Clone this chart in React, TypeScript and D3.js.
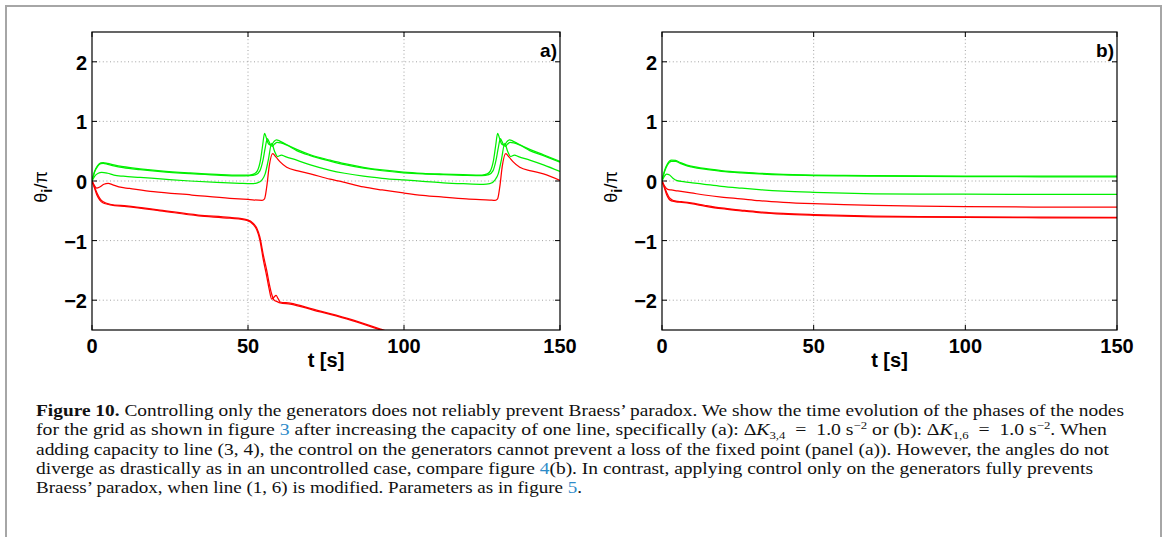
import React from 'react';
import * as d3 from 'd3';

type Pt = [number, number];

// ---------- axes ----------
const xTicks = [0, 50, 100, 150];
const yTicks = [-2, -1, 0, 1, 2];
const xDomain: [number, number] = [0, 150];
const yDomain: [number, number] = [-2.5, 2.5];

// ---------- panel a: ΔK(3,4) ----------
const aGreen1: Pt[] = [[0,0],[0.8,0.16],[1.8,0.26],[2.8,0.305],[3.6,0.31],[5,0.295],[7,0.27],[10,0.24],[15.4,0.205],[22,0.17],[31.4,0.135],[40,0.11],[47.4,0.097],[50.5,0.1],[52,0.12],[53,0.17],[54,0.35],[54.7,0.6],[55.3,0.8],[55.9,0.72],[56.6,0.62],[57.4,0.6],[58.3,0.66],[59.1,0.69],[60.2,0.67],[62,0.62],[65.6,0.53],[70,0.44],[76.3,0.35],[81,0.29],[87,0.23],[93,0.185],[99.8,0.15],[106,0.13],[112.6,0.117],[119,0.107],[125,0.1],[126.7,0.12],[127.7,0.17],[128.7,0.35],[129.4,0.6],[130,0.8],[130.6,0.72],[131.3,0.62],[132.1,0.6],[133,0.66],[133.8,0.69],[134.9,0.67],[136.7,0.62],[140.3,0.53],[144.7,0.44],[150,0.33]];
const aGreen2: Pt[] = [[0,0],[0.8,0.145],[1.8,0.245],[2.8,0.29],[3.6,0.295],[5,0.28],[7,0.255],[10,0.225],[15.4,0.19],[22,0.156],[31.4,0.122],[40,0.098],[47.4,0.086],[50.5,0.09],[52.5,0.108],[53.8,0.17],[54.8,0.35],[55.5,0.55],[56.2,0.71],[56.9,0.64],[57.7,0.58],[58.5,0.62],[59.3,0.65],[60.5,0.64],[62.5,0.6],[65.6,0.51],[70,0.425],[76.3,0.335],[81,0.275],[87,0.216],[93,0.172],[99.8,0.138],[106,0.119],[112.6,0.106],[119,0.096],[125,0.09],[127.2,0.108],[128.5,0.17],[129.5,0.35],[130.2,0.55],[130.9,0.71],[131.6,0.64],[132.4,0.58],[133.2,0.62],[134,0.65],[135.2,0.64],[137.2,0.6],[140.3,0.51],[144.7,0.425],[150,0.315]];
const aGreen3: Pt[] = [[0,0],[1,0.09],[2,0.13],[3.1,0.145],[5,0.13],[7,0.1],[10,0.08],[15.4,0.06],[22,0.035],[31.4,0.0],[40,-0.025],[47.4,-0.04],[51,-0.045],[53,-0.03],[54.5,0.02],[55.5,0.12],[56.5,0.35],[57.6,0.63],[58.5,0.5],[59.5,0.41],[60.7,0.435],[62,0.41],[65.6,0.35],[70,0.27],[76.3,0.18],[81,0.13],[87,0.08],[93,0.045],[99.8,0.017],[106,-0.005],[112.6,-0.03],[119,-0.045],[125.4,-0.055],[127.5,-0.045],[129.2,0.02],[130.2,0.12],[131.2,0.35],[132.3,0.63],[133.2,0.5],[134.2,0.41],[135.4,0.435],[136.7,0.41],[140.3,0.35],[144.7,0.27],[150,0.16]];
const aRed1: Pt[] = [[0,0],[0.7,-0.07],[1.5,-0.12],[2.5,-0.1],[3.8,-0.055],[5.2,-0.04],[6.5,-0.06],[8.6,-0.1],[12,-0.125],[19.7,-0.18],[32,-0.235],[44.2,-0.29],[50,-0.31],[54.5,-0.325],[55.3,-0.3],[56,-0.1],[56.8,0.25],[57.9,0.46],[59,0.4],[60.3,0.32],[62.4,0.23],[66,0.17],[70,0.12],[76.3,0.03],[80,-0.01],[87,-0.1],[93,-0.15],[99.8,-0.2],[106,-0.24],[112.6,-0.27],[120,-0.3],[127.5,-0.32],[129.2,-0.325],[130,-0.3],[130.7,-0.1],[131.5,0.25],[132.6,0.46],[133.7,0.4],[135,0.32],[137.1,0.23],[140.7,0.17],[144.7,0.12],[150,0.01]];
const aRed2: Pt[] = [[0,0],[0.8,-0.12],[1.6,-0.24],[2.5,-0.32],[3.6,-0.37],[5.8,-0.4],[11.1,-0.43],[21.8,-0.5],[34.1,-0.585],[44.2,-0.625],[49.6,-0.66],[51.7,-0.73],[52.8,-0.82],[53.8,-0.99],[54.9,-1.32],[56,-1.6],[56.8,-1.82],[57.6,-1.98],[58.3,-1.95],[59,-1.92],[59.6,-1.97],[60.3,-2.03],[63.5,-2.05],[70.9,-2.15],[81.6,-2.3],[92.8,-2.49],[100,-2.62]];
const aRed3: Pt[] = [[0,0],[0.8,-0.1],[1.6,-0.2],[2.5,-0.29],[3.6,-0.35],[5.8,-0.39],[11.1,-0.418],[21.8,-0.488],[34.1,-0.572],[44.2,-0.612],[49.6,-0.648],[51.7,-0.71],[52.8,-0.79],[53.8,-0.94],[54.9,-1.24],[56,-1.5],[56.8,-1.72],[57.6,-1.9],[58.4,-2.0],[59.2,-2.02],[60.3,-2.045],[63.5,-2.065],[70.9,-2.165],[81.6,-2.315],[92.8,-2.505],[100,-2.63]];

// ---------- panel b: ΔK(1,6) ----------
const bGreen1: Pt[] = [[0,0],[0.8,0.17],[1.8,0.29],[3.1,0.35],[4.5,0.345],[6,0.31],[8,0.27],[9.6,0.25],[14,0.21],[19.6,0.175],[26,0.148],[32,0.13],[40,0.113],[50,0.1],[60,0.094],[70,0.09],[85,0.086],[100,0.083],[125,0.081],[150,0.08]];
const bGreen2: Pt[] = [[0,0],[0.8,0.15],[1.8,0.27],[3.1,0.33],[4.5,0.33],[6,0.295],[8,0.257],[9.6,0.238],[14,0.198],[19.6,0.163],[26,0.137],[32,0.119],[40,0.102],[50,0.09],[60,0.084],[70,0.08],[85,0.076],[100,0.073],[125,0.071],[150,0.07]];
const bGreen3: Pt[] = [[0,0],[0.8,0.08],[1.5,0.115],[2.5,0.1],[3.5,0.05],[5,0.005],[7,-0.01],[10,-0.03],[14,-0.055],[19.6,-0.09],[26,-0.12],[32,-0.145],[40,-0.17],[50,-0.19],[60,-0.205],[70,-0.215],[85,-0.22],[100,-0.222],[125,-0.223],[150,-0.223]];
const bRed1: Pt[] = [[0,0],[0.8,-0.08],[1.9,-0.14],[3,-0.15],[5,-0.165],[9.6,-0.2],[14,-0.235],[19.6,-0.27],[26,-0.3],[32,-0.33],[40,-0.357],[50,-0.38],[60,-0.397],[70,-0.41],[85,-0.422],[100,-0.43],[125,-0.437],[150,-0.44]];
const bRed2: Pt[] = [[0,0],[0.8,-0.12],[1.6,-0.24],[2.4,-0.31],[3.5,-0.34],[4.6,-0.35],[6.5,-0.36],[9.6,-0.38],[14,-0.42],[19.6,-0.465],[26,-0.5],[32,-0.53],[40,-0.555],[50,-0.575],[60,-0.59],[70,-0.6],[85,-0.607],[100,-0.612],[125,-0.617],[150,-0.62]];
const bRed3: Pt[] = [[0,0],[0.8,-0.1],[1.6,-0.2],[2.4,-0.28],[3.5,-0.322],[4.6,-0.337],[6.5,-0.348],[9.6,-0.368],[14,-0.407],[19.6,-0.452],[26,-0.487],[32,-0.517],[40,-0.543],[50,-0.563],[60,-0.578],[70,-0.588],[85,-0.596],[100,-0.601],[125,-0.606],[150,-0.609]];

const GREEN = '#00f000';
const RED = '#ff0000';
const BLUE = '#2e8bc9';

type Series = { data: Pt[]; color: string };

const panelA: Series[] = [
  { data: aGreen1, color: GREEN }, { data: aGreen2, color: GREEN }, { data: aGreen3, color: GREEN },
  { data: aRed1, color: RED }, { data: aRed2, color: RED }, { data: aRed3, color: RED },
];
const panelB: Series[] = [
  { data: bGreen1, color: GREEN }, { data: bGreen2, color: GREEN }, { data: bGreen3, color: GREEN },
  { data: bRed1, color: RED }, { data: bRed2, color: RED }, { data: bRed3, color: RED },
];

const SANS = "'Liberation Sans', Arial, Helvetica, sans-serif";
const SERIF = "'Liberation Serif', 'Times New Roman', serif";

function Panel({ id, left, right, top, bottom, series, tag }: {
  id: string; left: number; right: number; top: number; bottom: number; series: Series[]; tag: string;
}) {
  const x = d3.scaleLinear().domain(xDomain).range([left, right]);
  const y = d3.scaleLinear().domain(yDomain).range([bottom, top]);
  const line = d3.line<Pt>().x(d => x(d[0])).y(d => y(d[1])).curve(d3.curveMonotoneX);
  const tl = 5;
  return (
    <g>
      <defs>
        <clipPath id={`clip-${id}`}>
          <rect x={left} y={top} width={right - left} height={bottom - top} />
        </clipPath>
      </defs>
      {xTicks.filter(t => t > xDomain[0] && t < xDomain[1]).map(t => (
        <line key={`gx${t}`} x1={x(t)} x2={x(t)} y1={top} y2={bottom} stroke="#8c8c8c" strokeWidth={0.8} strokeDasharray="1 2.6" />
      ))}
      {yTicks.map(t => (
        <line key={`gy${t}`} x1={left} x2={right} y1={y(t)} y2={y(t)} stroke="#8c8c8c" strokeWidth={0.8} strokeDasharray="1 2.6" />
      ))}
      <g clipPath={`url(#clip-${id})`}>
        {series.map((s, i) => (
          <path key={i} d={line(s.data) || ''} fill="none" stroke={s.color} strokeWidth={1.25} strokeLinejoin="round" />
        ))}
      </g>
      <rect x={left} y={top} width={right - left} height={bottom - top} fill="none" stroke="#000" strokeWidth={1.2} />
      {yTicks.map(t => (
        <g key={`ty${t}`}>
          <line x1={left} x2={left + tl} y1={y(t)} y2={y(t)} stroke="#000" strokeWidth={1} />
          <line x1={right} x2={right - tl} y1={y(t)} y2={y(t)} stroke="#000" strokeWidth={1} />
          <text x={left - 5} y={y(t) + 8} textAnchor="end" fontFamily={SANS} fontWeight="bold" fontSize={20} fill="#000">
            {t < 0 ? `\u2212${Math.abs(t)}` : `${t}`}
          </text>
        </g>
      ))}
      {xTicks.map(t => (
        <g key={`tx${t}`}>
          <line x1={x(t)} x2={x(t)} y1={bottom} y2={bottom - tl} stroke="#000" strokeWidth={1} />
          <line x1={x(t)} x2={x(t)} y1={top} y2={top + tl} stroke="#000" strokeWidth={1} />
          <text x={x(t)} y={353} textAnchor="middle" fontFamily={SANS} fontWeight="bold" fontSize={20} fill="#000">{t}</text>
        </g>
      ))}
      <text x={(left + right) / 2} y={367} textAnchor="middle" fontFamily={SANS} fontWeight="bold" fontSize={20} fill="#000">t [s]</text>
      <text x={right - 3} y={57} textAnchor="end" fontFamily={SANS} fontWeight="bold" fontSize={19} fill="#000">{tag}</text>
      <g transform={`translate(${left - 45},187) rotate(-90)`}>
        <text x={0} y={0} textAnchor="middle" fontFamily={SANS} fontSize={18} fill="#000">
          <tspan>θ</tspan>
          <tspan fontWeight="bold" fontSize={15} dy={5}>i</tspan>
          <tspan dy={-5}>/π</tspan>
        </text>
      </g>
    </g>
  );
}

type Seg = { t: string; b?: boolean; i?: boolean; c?: string; s?: number; fs?: number };

const captionLines: Seg[][] = [
  [{ t: 'Figure 10.', b: true }, { t: ' Controlling only the generators does not reliably prevent Braess\u2019 paradox. We show the time evolution of the phases of the nodes' }],
  [{ t: 'for the grid as shown in figure ' }, { t: '3', c: BLUE }, { t: ' after increasing the capacity of one line, specifically (a): \u0394' },
   { t: 'K', i: true }, { t: '3,4', s: 4, fs: 11 }, { t: '\u2002=\u20021.0 s' }, { t: '\u22122', s: -6, fs: 11 },
   { t: ' or (b): \u0394' }, { t: 'K', i: true }, { t: '1,6', s: 4, fs: 11 }, { t: '\u2002=\u20021.0 s' }, { t: '\u22122', s: -6, fs: 11 }, { t: '. When' }],
  [{ t: 'adding capacity to line (3, 4), the control on the generators cannot prevent a loss of the fixed point (panel (a)). However, the angles do not' }],
  [{ t: 'diverge as drastically as in an uncontrolled case, compare figure ' }, { t: '4', c: BLUE }, { t: '(b). In contrast, applying control only on the generators fully prevents' }],
  [{ t: 'Braess\u2019 paradox, when line (1, 6) is modified. Parameters as in figure ' }, { t: '5', c: BLUE }, { t: '.' }],
];
const captionBaselines = [416, 435.3, 454.6, 473.9, 493.2];
const captionEnds = [1124, 1107, 1109, 1093, 582];
const captionStart = 36;

export default function App() {
  return (
    <svg width={1165} height={537} style={{ position: 'absolute', left: 0, top: 0, background: '#fff' }}>
      <rect x={0} y={0} width={1165} height={537} fill="#fff" />
      <rect x={6} y={6} width={1155} height={600} fill="none" stroke="#a6a6a6" strokeWidth={2} />
      <Panel id="a" left={92} right={560} top={32} bottom={330} series={panelA} tag="a)" />
      <Panel id="b" left={662} right={1117} top={32} bottom={330} series={panelB} tag="b)" />
      {captionLines.map((segs, li) => {
        let cur = 0;
        return (
          <text key={li} x={captionStart} y={captionBaselines[li]} fontFamily={SERIF} fontSize={17} fill="#111"
            textLength={captionEnds[li] - captionStart} lengthAdjust="spacingAndGlyphs">
            {segs.map((sg, si) => {
              const target = sg.s || 0;
              const dy = target - cur;
              cur = target;
              return (
                <tspan key={si} dy={dy || undefined} fontWeight={sg.b ? 'bold' : undefined}
                  fontStyle={sg.i ? 'italic' : undefined} fill={sg.c} fontSize={sg.fs}>{sg.t}</tspan>
              );
            })}
          </text>
        );
      })}
    </svg>
  );
}
